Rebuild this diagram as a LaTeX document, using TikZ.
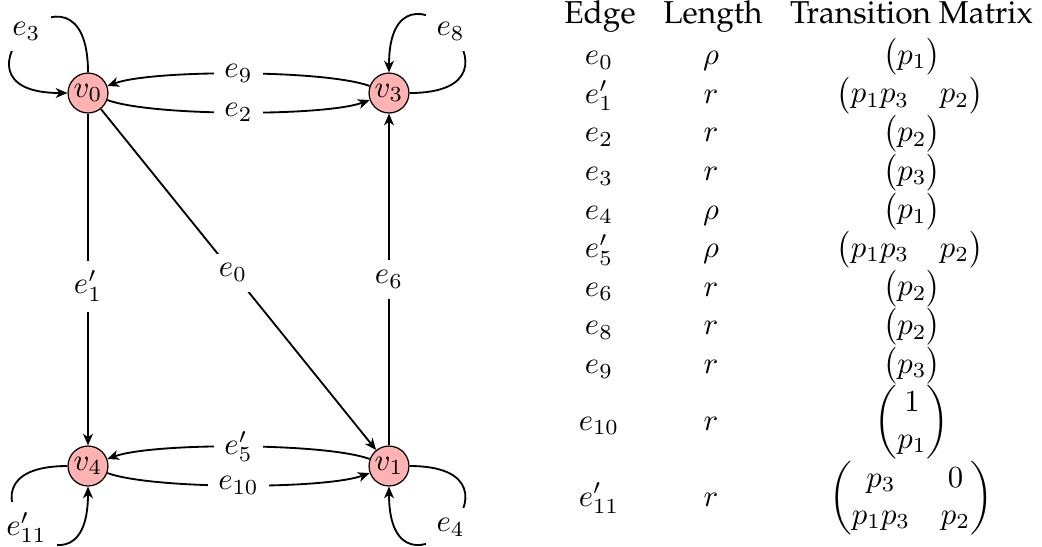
\documentclass[tikz,border=0pt]{standalone}
\usepackage[T1,TU]{fontenc}
\usepackage{amsmath}
\usetikzlibrary{arrows.meta}
\newcommand{\palfont}{\fontencoding{T1}\fontfamily{ppl}\fontsize{10.3}{12.4}\selectfont}
\begin{document}
\begin{tikzpicture}[x=0.3257pt,y=0.3257pt,
  vert/.style={circle,draw,thin,fill=red!30,inner sep=0pt,minimum size=13pt},
  arr/.style={semithick,-{Stealth[length=3.8pt,width=3.2pt,inset=1.1pt]}},
  lbl/.style={fill=white},
  curvy/.style={bend right=20,looseness=0.47},
  selfloop/.style={looseness=12},
  cell/.style={anchor=base,inner sep=0pt},
  head/.style={anchor=base,inner sep=0pt,font=\palfont}]
\useasboundingbox (0,0) rectangle (1042,-546);

\node[vert] (v0) at (88,-93) {$v_0$};
\node[vert] (v3) at (389,-93) {$v_3$};
\node[vert] (v4) at (88,-466) {$v_4$};
\node[vert] (v1) at (389,-466) {$v_1$};

\draw[arr] (v0) to[curvy] node[lbl] {$e_2$} (v3);
\draw[arr] (v3) to[curvy] node[lbl] {$e_9$} (v0);
\draw[arr] (v4) to[curvy] node[lbl] {$e_{10}$} (v1);
\draw[arr] (v1) to[curvy] node[lbl] {$e_5'$} (v4);
\draw[arr] (v0) -- node[lbl,pos=0.48] {$e_0$} (v1);
\draw[arr] (v0) -- node[lbl,pos=0.52] {$e_1'$} (v4);
\draw[arr] (v1) -- node[lbl] {$e_6$} (v3);

\draw[arr] (v0) to[out=90,in=180,selfloop] node[lbl] {$e_3$} (v0);
\draw[arr] (v3) to[out=0,in=90,selfloop] node[lbl] {$e_8$} (v3);
\draw[arr] (v1) to[out=0,in=270,selfloop] node[lbl] {$e_4$} (v1);
\draw[arr] (v4) to[out=180,in=270,selfloop] node[lbl] {$e_{11}'$} (v4);

% table
\node[head] (hE) at (600,-23) {Edge};
\node[head] (hL) at (713,-23) {Length};
\node[head] (hT) at (911.5,-23) {Transition Matrix};

\node[cell] (a0) at (599,-64.6) {$e_0$};
\node[cell] (b0) at (711,-64.6) {$\rho$};
\node[cell] (c0) at (912,-64.6) {$\begin{pmatrix}p_1\end{pmatrix}$};

\node[cell] (a1) at (599,-103.2) {$e_1'$};
\node[cell] (b1) at (711,-103.2) {$r$};
\node[cell] (c1) at (910,-103.2) {$\begin{pmatrix}p_1p_3 & p_2\end{pmatrix}$};

\node[cell] (a2) at (599,-141.8) {$e_2$};
\node[cell] (b2) at (711,-141.8) {$r$};
\node[cell] (c2) at (912,-141.8) {$\begin{pmatrix}p_2\end{pmatrix}$};

\node[cell] (a3) at (599,-180.4) {$e_3$};
\node[cell] (b3) at (711,-180.4) {$r$};
\node[cell] (c3) at (912,-180.4) {$\begin{pmatrix}p_3\end{pmatrix}$};

\node[cell] (a4) at (599,-219) {$e_4$};
\node[cell] (b4) at (711,-219) {$\rho$};
\node[cell] (c4) at (912,-219) {$\begin{pmatrix}p_1\end{pmatrix}$};

\node[cell] (a5) at (599,-257.6) {$e_5'$};
\node[cell] (b5) at (711,-257.6) {$\rho$};
\node[cell] (c5) at (910,-257.6) {$\begin{pmatrix}p_1p_3 & p_2\end{pmatrix}$};

\node[cell] (a6) at (599,-296.2) {$e_6$};
\node[cell] (b6) at (711,-296.2) {$r$};
\node[cell] (c6) at (912,-296.2) {$\begin{pmatrix}p_2\end{pmatrix}$};

\node[cell] (a8) at (599,-334.8) {$e_8$};
\node[cell] (b8) at (711,-334.8) {$r$};
\node[cell] (c8) at (912,-334.8) {$\begin{pmatrix}p_2\end{pmatrix}$};

\node[cell] (a9) at (599,-373.4) {$e_9$};
\node[cell] (b9) at (711,-373.4) {$r$};
\node[cell] (c9) at (912,-373.4) {$\begin{pmatrix}p_3\end{pmatrix}$};

\node[cell] (a10) at (599,-430) {$e_{10}$};
\node[cell] (b10) at (711,-430) {$r$};
\node[cell] (c10) at (912,-430) {$\begin{pmatrix}1\\ p_1\end{pmatrix}$};

\node[cell] (a11) at (599,-506) {$e_{11}'$};
\node[cell] (b11) at (711,-506) {$r$};
\node[cell] (c11) at (911,-506) {$\begin{pmatrix}p_3 & 0\\ p_1p_3 & p_2\end{pmatrix}$};
\end{tikzpicture}
\end{document}
